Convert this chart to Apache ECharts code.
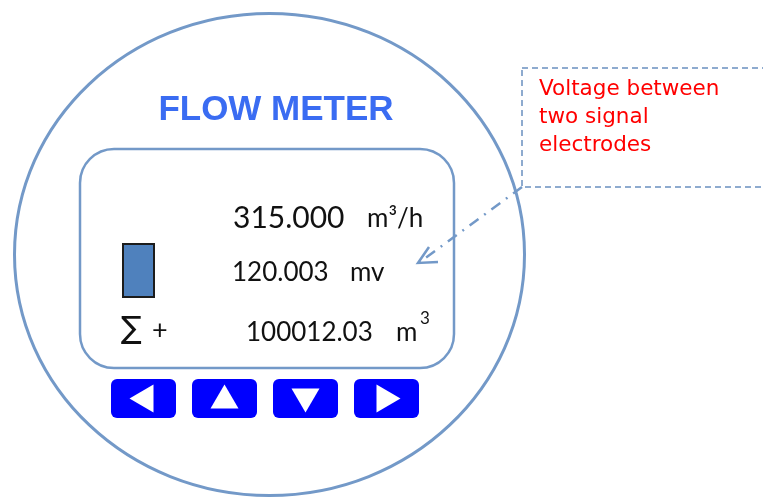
<!DOCTYPE html>
<html>
<head>
<meta charset="utf-8">
<script src="https://cdn.jsdelivr.net/npm/echarts@6/dist/echarts.min.js"></script>
<style>
  html, body { margin: 0; padding: 0; background: #fff; }
  #main { width: 763px; height: 497px; }
</style>
</head>
<body>
<div id="main"></div>
<script>
// display readings (text shown on the meter's screen)
var readings = ['315.000', '120.003', '100012.03']
var units = ['m³/h', 'mv', 'm']
var title = 'FLOW METER'
var noteLines = ['Voltage between', 'two signal', 'electrodes']
var buttonDirs = [-90, 0, 180, 90]   // left, up, down, right (degrees from "up")

var chart = echarts.init(document.getElementById('main'))

var edge = '#7399c8'
var numFont = 'Lato, "Open Sans", sans-serif'

// white triangle inside a key, pointing "up" then rotated
function arrowPts(cx, cy, deg) {
    var base = [[0, -14], [14, 10], [-14, 10]]
    var a = deg * Math.PI / 180
    return base.map(function (p) {
        return [cx + p[0] * Math.cos(a) - p[1] * Math.sin(a), cy + p[0] * Math.sin(a) + p[1] * Math.cos(a)]
    })
}

var elements = [
    {
        type: 'ellipse',
        shape: { cx: 269.5, cy: 254.5, rx: 255, ry: 241 },
        style: { fill: 'none', stroke: edge, lineWidth: 3 }
    },
    {
        type: 'text', x: 276, y: 110,
        style: { text: title, fill: '#3a6cf2', font: 'bold 35px "Liberation Sans", Arial, sans-serif', textAlign: 'center', textVerticalAlign: 'middle' }
    },
    {
        type: 'rect',
        shape: { x: 80, y: 149, width: 374, height: 219, r: 34 },
        style: { fill: 'none', stroke: edge, lineWidth: 2.5 }
    },
    {
        type: 'rect',
        shape: { x: 123, y: 244, width: 31, height: 53 },
        style: { fill: '#4f81bd', stroke: '#1c1c1c', lineWidth: 2 }
    },
    // readings
    { type: 'text', x: 233, y: 218, style: { text: readings[0], fill: '#111', font: '30px ' + numFont, textVerticalAlign: 'middle' } },
    { type: 'text', x: 367, y: 219, style: { text: units[0], fill: '#111', font: '26px ' + numFont, textVerticalAlign: 'middle' } },
    { type: 'text', x: 232, y: 273, style: { text: readings[1], fill: '#111', font: '26px ' + numFont, textVerticalAlign: 'middle' } },
    { type: 'text', x: 350, y: 273, style: { text: units[1], fill: '#111', font: '26px ' + numFont, textVerticalAlign: 'middle' } },
    { type: 'text', x: 246, y: 333, style: { text: readings[2], fill: '#111', font: '26px ' + numFont, textVerticalAlign: 'middle' } },
    { type: 'text', x: 396, y: 333, style: { text: units[2], fill: '#111', font: '26px ' + numFont, textVerticalAlign: 'middle' } },
    { type: 'text', x: 420, y: 319, style: { text: '3', fill: '#111', font: '17px ' + numFont, textVerticalAlign: 'middle' } },
    { type: 'text', x: 121, y: 330, style: { text: '∑', fill: '#111', font: '31px "DejaVu Sans", sans-serif', textVerticalAlign: 'middle' } },
    { type: 'text', x: 152, y: 330, style: { text: '+', fill: '#111', font: '27px ' + numFont, textVerticalAlign: 'middle' } },
    // note box and pointer
    {
        type: 'rect',
        shape: { x: 522, y: 68, width: 260, height: 119 },
        style: { fill: 'none', stroke: '#6a90c0', lineWidth: 1.5, lineDash: [6, 4] }
    },
    {
        type: 'line',
        shape: { x1: 522, y1: 187, x2: 420, y2: 262 },
        style: { stroke: edge, lineWidth: 2.5, lineDash: [11, 7, 2, 7] }
    },
    {
        type: 'polyline',
        shape: { points: [[429, 247], [418, 263], [438, 262]] },
        style: { fill: 'none', stroke: edge, lineWidth: 2.5 }
    }
]

noteLines.forEach(function (t, i) {
    elements.push({
        type: 'text', x: 539, y: 89 + i * 28,
        style: { text: t, fill: '#ff0000', font: '21.5px "DejaVu Sans", sans-serif', textVerticalAlign: 'middle' }
    })
})

buttonDirs.forEach(function (deg, i) {
    var bx = 111 + i * 81
    elements.push({
        type: 'rect',
        shape: { x: bx, y: 379, width: 65, height: 39, r: 6 },
        style: { fill: '#0000ff' }
    })
    elements.push({
        type: 'polygon',
        shape: { points: arrowPts(bx + 32.5, 398.5, deg) },
        style: { fill: '#ffffff' }
    })
})

var option = {
    backgroundColor: '#ffffff',
    animation: false,
    graphic: { elements: elements }
}

chart.setOption(option)
</script>
</body>
</html>
